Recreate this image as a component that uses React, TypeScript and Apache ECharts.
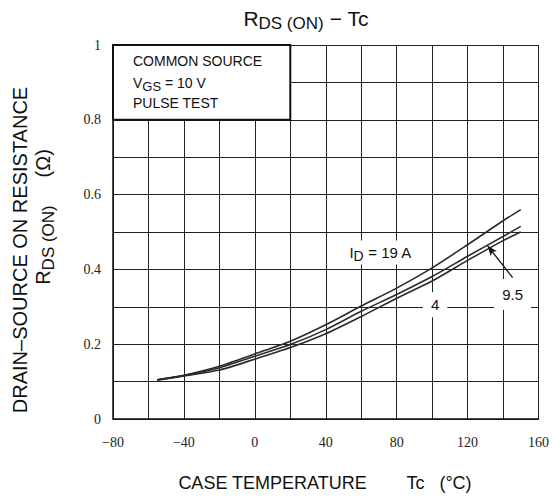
import React, { useEffect, useRef } from 'react';
import * as echarts from 'echarts';

// Case temperature Tc (°C)
const temperatures = [-55, -40, -20, 0, 20, 40, 60, 80, 100, 120, 140, 150];
// RDS(ON) (Ω) for each drain current
const rds19A = [0.105, 0.117, 0.141, 0.174, 0.208, 0.252, 0.302, 0.35, 0.404, 0.466, 0.53, 0.56];
const rds9p5A = [0.105, 0.116, 0.137, 0.168, 0.199, 0.239, 0.288, 0.333, 0.381, 0.435, 0.488, 0.515];
const rds4A = [0.104, 0.115, 0.131, 0.16, 0.191, 0.228, 0.274, 0.323, 0.369, 0.424, 0.477, 0.5];

const seriesNames = ['19 A', '9.5 A', '4 A'];
const boxLines = ['COMMON SOURCE', 'VGS = 10 V', 'PULSE TEST'];

const SANS = '"Liberation Sans", Arial, sans-serif';
const SERIF = '"Liberation Serif", "Times New Roman", serif';

export default function App() {
  const ref = useRef<HTMLDivElement>(null);

  useEffect(() => {
    document.body.style.margin = '0';
    const chart = echarts.init(ref.current!, null, { renderer: 'svg' });
    const pairs = (vals: number[]) => temperatures.map((t, i) => [t, vals[i]]);
    const lineStyle = { color: '#2a2a2a', width: 1.6 };

    chart.setOption({
      animation: false,
      grid: { left: 113, right: 11, top: 45, bottom: 80, show: false },
      xAxis: {
        type: 'value',
        min: -80,
        max: 160,
        interval: 20,
        axisLine: { show: true, onZero: false, lineStyle: { color: '#111', width: 1.5 } },
        axisTick: { show: false },
        splitLine: { show: true, lineStyle: { color: '#222', width: 1 } },
        axisLabel: {
          formatter: (v: number) => (v % 40 === 0 ? String(v).replace('-', '\u2212') : ''),
          fontFamily: SERIF,
          fontSize: 14,
          color: '#222',
          margin: 16,
        },
      },
      yAxis: {
        type: 'value',
        min: 0,
        max: 1,
        interval: 0.1,
        axisLine: { show: true, onZero: false, lineStyle: { color: '#111', width: 1.5 } },
        axisTick: { show: false },
        splitLine: { show: true, lineStyle: { color: '#222', width: 1 } },
        axisLabel: {
          formatter: (v: number) => {
            const k = Math.round(v * 10);
            if (k % 2 !== 0) return '';
            if (k === 0) return '0';
            if (k === 10) return '1';
            return (k / 10).toFixed(1);
          },
          fontFamily: SERIF,
          fontSize: 14,
          color: '#222',
          margin: 12,
        },
      },
      series: [
        {
          name: seriesNames[0],
          type: 'line',
          data: pairs(rds19A),
          showSymbol: false,
          smooth: 0.25,
          lineStyle,
          markArea: {
            silent: true,
            itemStyle: { color: '#fff', borderColor: '#111', borderWidth: 2 },
            label: { show: false },
            data: [[{ xAxis: -80, yAxis: 0.8 }, { xAxis: 20, yAxis: 1 }]],
          },
        },
        {
          name: seriesNames[1],
          type: 'line',
          data: pairs(rds9p5A),
          showSymbol: false,
          smooth: 0.25,
          lineStyle,
          markLine: {
            silent: true,
            symbol: ['none', 'arrow'],
            symbolSize: [6, 10],
            label: { show: false },
            lineStyle: { color: '#111', width: 1.3, type: 'solid' },
            data: [[{ coord: [145.4, 0.378] }, { coord: [131.3, 0.463] }]],
          },
        },
        {
          name: seriesNames[2],
          type: 'line',
          data: pairs(rds4A),
          showSymbol: false,
          smooth: 0.25,
          lineStyle,
        },
      ],
    });

    const px = (t: number, r: number) => chart.convertToPixel({ gridIndex: 0 }, [t, r]) as number[];
    const boxTL = px(-80, 1);
    const lbl19 = px(70.9, 0.445);
    const lbl4 = px(101.7, 0.3056);
    const lbl95 = px(145.4, 0.333);

    chart.setOption({
      graphic: [
        {
          type: 'text',
          x: 306,
          y: 18,
          style: {
            text: '{r|R}{s|DS (ON)}{r| \u2212 Tc}',
            align: 'center',
            verticalAlign: 'middle',
            fill: '#111',
            rich: {
              r: { fontFamily: SANS, fontSize: 21, lineHeight: 28, verticalAlign: 'middle', fill: '#111' },
              s: { fontFamily: SANS, fontSize: 17, lineHeight: 17, verticalAlign: 'bottom', fill: '#111' },
            },
          },
        },
        {
          type: 'text',
          x: 20,
          y: 250,
          rotation: Math.PI / 2,
          style: {
            text: 'DRAIN\u2013SOURCE ON RESISTANCE',
            font: `20px ${SANS}`,
            align: 'center',
            verticalAlign: 'middle',
            fill: '#111',
          },
        },
        {
          type: 'text',
          x: 43,
          y: 217,
          rotation: Math.PI / 2,
          style: {
            text: '{r|R}{s|DS (ON)}{r|     (\u03a9)}',
            align: 'center',
            verticalAlign: 'middle',
            fill: '#111',
            rich: {
              r: { fontFamily: SANS, fontSize: 20, lineHeight: 28, verticalAlign: 'middle', fill: '#111' },
              s: { fontFamily: SANS, fontSize: 17, lineHeight: 17, verticalAlign: 'bottom', fill: '#111' },
            },
          },
        },
        {
          type: 'text',
          x: 325,
          y: 483,
          style: {
            text: 'CASE TEMPERATURE        Tc   (\u00b0C)',
            font: `18px ${SANS}`,
            align: 'center',
            verticalAlign: 'middle',
            fill: '#111',
          },
        },
        {
          type: 'text',
          x: boxTL[0] + 20,
          y: boxTL[1] + 16,
          z: 100,
          style: {
            text: boxLines[0],
            font: `14px ${SANS}`,
            verticalAlign: 'middle',
            fill: '#111',
          },
        },
        {
          type: 'text',
          x: boxTL[0] + 20,
          y: boxTL[1] + 38,
          z: 100,
          style: {
            text: '{r|V}{s|GS}{r| = 10 V}',
            verticalAlign: 'middle',
            fill: '#111',
            rich: {
              r: { fontFamily: SANS, fontSize: 14, lineHeight: 20, verticalAlign: 'middle', fill: '#111' },
              s: { fontFamily: SANS, fontSize: 13, lineHeight: 13, verticalAlign: 'bottom', fill: '#111' },
            },
          },
        },
        {
          type: 'text',
          x: boxTL[0] + 20,
          y: boxTL[1] + 58,
          z: 100,
          style: {
            text: boxLines[2],
            font: `14px ${SANS}`,
            verticalAlign: 'middle',
            fill: '#111',
          },
        },
        {
          type: 'text',
          x: lbl19[0],
          y: lbl19[1],
          z: 100,
          style: {
            text: '{r|I}{s|D}{r| = 19 A}',
            align: 'center',
            verticalAlign: 'middle',
            backgroundColor: '#fff',
            padding: [2, 3],
            fill: '#111',
            rich: {
              r: { fontFamily: SANS, fontSize: 15, lineHeight: 20, verticalAlign: 'middle', fill: '#111' },
              s: { fontFamily: SANS, fontSize: 14, lineHeight: 14, verticalAlign: 'bottom', fill: '#111' },
            },
          },
        },
        {
          type: 'text',
          x: lbl4[0],
          y: lbl4[1],
          z: 100,
          style: {
            text: '4',
            font: `15px ${SANS}`,
            align: 'center',
            verticalAlign: 'middle',
            backgroundColor: '#fff',
            padding: [5, 8],
            fill: '#111',
          },
        },
        {
          type: 'text',
          x: lbl95[0],
          y: lbl95[1],
          z: 100,
          style: {
            text: '9.5',
            font: `15px ${SANS}`,
            align: 'center',
            verticalAlign: 'middle',
            backgroundColor: '#fff',
            padding: [8, 8],
            fill: '#111',
          },
        },
      ],
    });

    return () => chart.dispose();
  }, []);

  return <div ref={ref} style={{ width: 552, height: 499 }} />;
}
